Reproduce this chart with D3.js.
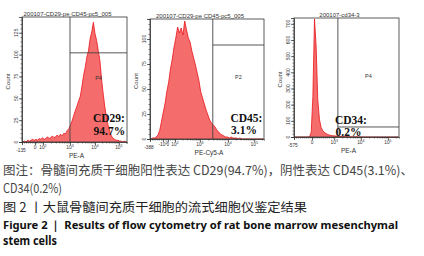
<!DOCTYPE html>
<html><head><meta charset="utf-8">
<script src="https://cdn.jsdelivr.net/npm/d3@7"></script>
<style>body{margin:0;background:#fff;} svg{display:block}</style>
</head><body><svg id="c" width="424" height="256"></svg>
<script>
// ---------- DATA ----------
const titles = ["200107-CD29-pe CD45-pc5_005", "200107-CD29-pe CD45-pc5_005", "200107-cd34-3"];
const xAxisNames = ["PE-A", "PE-Cy5-A", "PE-A"];
const gateNames = ["P4", "P2", "P4"];
const markerNames = ["CD29:", "CD45:", "CD34:"];
const markerPercents = ["94.7%", "3.1%", "0.2%"];
// histogram counts: 64 bins over 256 display channels
const cd29Counts = [0,1,0,2, 1,2,3,2, 3,2,4,3, 5,3,4,6, 4,5,7,5, 6,8,6,9, 7,10,9,13, 15,19,24,30,
  36,41,47,52, 63,76,85,97, 104,118,126,137, 124,116,104,93, 72,55,40,28, 19,12,7,4, 3,2,2,1, 1,0,1,0];
const cd45Counts = [0,1,1,2, 4,9,18,27, 36,48,57,70, 80,92,101,112, 106,111,104,118, 109,101,97,88,
  81,74,66,58, 47,41,35,29, 24,19,16,14, 12,9,7,5, 4,3,2,2, 1,2,1,1, 1,0,1,0, 0,0,0,0, 0,0,0,0, 0,0,0,0];
const cd34Counts = [0,0,0,0, 0,0,0,0, 0,2,30,250, 730,560,230,110, 60,40,28,22, 16,12,10,8, 7,6,5,4,
  4,3,3,2, 2,2,1,1, 1,1,1,0, 1,0,0,0, 0,0,0,0, 0,0,0,0, 0,0,0,0, 0,0,0,0, 0,0,0,0];
const countMax = [143, 120, 736];
const yTicks1 = [0, 25, 50, 75, 100, 125];
const yTicks2 = [0, 25, 50, 75, 100];
const yTicks3 = [0, 100, 200, 300, 400, 500, 600, 700];
const xTickLabels1 = ["-135", "0", "10^2", "10^3", "10^4", "10^5"];
const xTickChannels1 = [0, 32, 51, 117, 178, 236];
const xTickLabels2 = ["-388", "-10^2", "0", "10^2", "10^3", "10^4", "10^5"];
const xTickChannels2 = [0, 29, 40, 56, 112, 175, 234];
const xTickLabels3 = ["-575", "0", "10^3", "10^4", "10^5"];
const xTickChannels3 = [0, 44, 98, 163, 229];
const gateChannels = [117, 141, 107];   // vertical gate threshold (channel)
const gateLevels = [102, 94, 62];       // horizontal gate line (count)

const captionLines = [
  "图注：骨髓间充质干细胞阳性表达 CD29(94.7%)，阴性表达 CD45(3.1%)、",
  "CD34(0.2%)",
  "图 2 丨大鼠骨髓间充质干细胞的流式细胞仪鉴定结果",
  "Figure 2 ｜ Results of flow cytometry of rat bone marrow mesenchymal",
  "stem cells"
];

// ---------- LAYOUT ----------
const panels = [
  {box: {l: 22, r: 127, t: 17, b: 142}, counts: cd29Counts, yTicks: yTicks1, yMinor: 5,
   xl: xTickLabels1, xc: xTickChannels1, mk: {x: 93, y: 122, dy: 12.5}},
  {box: {l: 150, r: 264, t: 19, b: 139}, counts: cd45Counts, yTicks: yTicks2, yMinor: 5,
   xl: xTickLabels2, xc: xTickChannels2, mk: {x: 230.5, y: 122, dy: 12}},
  {box: {l: 294, r: 399, t: 18, b: 137}, counts: cd34Counts, yTicks: yTicks3, yMinor: 20,
   xl: xTickLabels3, xc: xTickChannels3, mk: {x: 335, y: 124, dy: 12}}
];

const svg = d3.select("#c");
const axisColor = "#333";
const sans = "'Liberation Sans', Arial, sans-serif";

panels.forEach((p, i) => {
  const g = svg.append("g");
  const {l, r, t, b} = p.box;
  const x = d3.scaleLinear().domain([0, 256]).range([l, r]);
  const y = d3.scaleLinear().domain([0, countMax[i]]).range([b, t]);
  const bins = p.counts.map((c, k) => ({ch: k * 4 + 2, c}));

  // histogram
  const area = d3.area().x(d => x(d.ch)).y0(y(0)).y1(d => y(d.c)).curve(d3.curveLinear);
  const line = d3.line().x(d => x(d.ch)).y(d => y(d.c)).curve(d3.curveLinear);
  g.append("path").datum(bins).attr("d", area).attr("fill", "#f56c6c");
  g.append("path").datum(bins).attr("d", line).attr("fill", "none")
    .attr("stroke", "#e8151b").attr("stroke-width", 0.8);

  // frame
  g.append("rect").attr("x", l).attr("y", t).attr("width", r - l).attr("height", b - t)
    .attr("fill", "none").attr("stroke", axisColor).attr("stroke-width", 0.8);

  // gate
  const gx = x(gateChannels[i]);
  g.append("line").attr("x1", gx).attr("x2", gx).attr("y1", t).attr("y2", b)
    .attr("stroke", "#444").attr("stroke-width", 0.9);
  g.append("line").attr("x1", gx).attr("x2", r).attr("y1", y(gateLevels[i])).attr("y2", y(gateLevels[i]))
    .attr("stroke", "#444").attr("stroke-width", 0.9);
  g.append("text").attr("x", (gx + r) / 2).attr("y", (t + b) / 2 - 0)
    .attr("text-anchor", "middle").attr("font-family", sans).attr("font-size", 5.5)
    .attr("fill", "#333").text(gateNames[i]);

  // title
  g.append("text").attr("x", (l + r) / 2 - 7).attr("y", t - 1.5).attr("text-anchor", "middle")
    .attr("font-family", sans).attr("font-size", 6).attr("fill", "#333").text(titles[i]);

  // y axis
  const minorY = d3.range(0, countMax[i] + 0.1, p.yMinor).filter(v => y(v) >= t);
  g.append("g").attr("transform", `translate(${l},0)`)
    .call(d3.axisLeft(y).tickValues(minorY).tickSize(1.5).tickFormat(""))
    .call(a => a.select(".domain").remove())
    .call(a => a.selectAll("line").attr("stroke", axisColor).attr("stroke-width", 0.6));
  const ya = g.append("g").attr("transform", `translate(${l},0)`)
    .call(d3.axisLeft(y).tickValues(p.yTicks).tickSize(3).tickFormat(""));
  ya.select(".domain").attr("stroke", axisColor).attr("stroke-width", 0.8);
  ya.selectAll("line").attr("stroke", axisColor).attr("stroke-width", 0.7);
  p.yTicks.forEach(v => {
    g.append("text").attr("transform", `translate(${l - 4.5},${y(v)}) rotate(-90)`)
      .attr("text-anchor", "middle").attr("font-family", sans).attr("font-size", 5)
      .attr("fill", "#333").text(v);
  });
  g.append("text").attr("transform", `translate(${l - 12},${(t + b) / 2 + 2}) rotate(-90)`)
    .attr("text-anchor", "middle").attr("font-family", sans).attr("font-size", 6)
    .attr("fill", "#333").text("Count");

  // x axis: major ticks + minor log ticks
  const decIdx = p.xl.map((s, k) => s.startsWith("10^") ? k : -1).filter(k => k >= 0);
  const minor = [];
  for (let k = 0; k < decIdx.length - 1; k++) {
    const a = p.xc[decIdx[k]], c = p.xc[decIdx[k + 1]];
    for (let m = 2; m <= 9; m++) minor.push(a + Math.log10(m) * (c - a));
  }
  if (decIdx.length > 1) {
    const a = p.xc[decIdx[decIdx.length - 1]], step = a - p.xc[decIdx[decIdx.length - 2]];
    for (let m = 2; m <= 9; m++) { const v = a + Math.log10(m) * step; if (v <= 256) minor.push(v); }
  }
  for (let k = 0; k < p.xc[decIdx[0]]; k += 5) minor.push(k);
  const xaM = g.append("g").attr("transform", `translate(0,${b})`)
    .call(d3.axisBottom(x).tickValues(minor).tickSize(1.5).tickFormat(""));
  xaM.select(".domain").attr("stroke", axisColor).attr("stroke-width", 0.8);
  xaM.selectAll("line").attr("stroke", axisColor).attr("stroke-width", 0.6);
  const xa = g.append("g").attr("transform", `translate(0,${b})`)
    .call(d3.axisBottom(x).tickValues(p.xc).tickSize(3).tickFormat(""));
  xa.select(".domain").remove();
  xa.selectAll("line").attr("stroke", axisColor).attr("stroke-width", 0.8);
  p.xl.forEach((s, k) => {
    const isNeg = s.startsWith("-") && k === 0;
    const tx = g.append("text").attr("x", x(p.xc[k]) + (isNeg ? -1 : 0)).attr("y", b + (isNeg ? 10 : 7))
      .attr("text-anchor", "middle").attr("font-family", sans).attr("font-size", 4.8).attr("fill", "#333");
    if (s.includes("^")) {
      const [base, ex] = s.split("^");
      tx.append("tspan").text(base);
      tx.append("tspan").attr("font-size", 3.5).attr("dy", -2).text(ex);
    } else tx.text(s);
  });
  g.append("text").attr("x", (l + r) / 2 + 2).attr("y", b + 15.5).attr("text-anchor", "middle")
    .attr("font-family", sans).attr("font-size", 6.5).attr("fill", "#333").text(xAxisNames[i]);

  // marker label
  g.append("text").attr("x", p.mk.x).attr("y", p.mk.y).attr("font-family", "'Liberation Serif', serif")
    .attr("font-weight", "bold").attr("font-size", 11.5).attr("fill", "#111").text(markerNames[i]);
  g.append("text").attr("x", p.mk.x + 0.5).attr("y", p.mk.y + p.mk.dy).attr("font-family", "'Liberation Serif', serif")
    .attr("font-weight", "bold").attr("font-size", 11.5).attr("fill", "#111").text(markerPercents[i]);
});

// caption
const cap = svg.append("g");
const cjk = "'Noto Sans CJK SC', 'Noto Sans', sans-serif";
const latin = "'Noto Sans', 'Open Sans', sans-serif";
const capStyles = [
  {y: 175, size: 12.5, weight: "normal", fill: "#444", len: 410, font: cjk},
  {y: 193, size: 12.5, weight: "normal", fill: "#444", len: 59, font: cjk},
  {y: 211.5, size: 12.5, weight: "normal", fill: "#222", len: 304, font: cjk},
  {y: 228.5, size: 11.2, weight: "bold", fill: "#111", len: 395, font: latin},
  {y: 245, size: 11.6, weight: "bold", fill: "#111", len: 54, font: latin}
];
captionLines.forEach((s, k) => {
  const st = capStyles[k];
  const t = cap.append("text").attr("x", 3).attr("y", st.y)
    .attr("font-family", st.font)
    .attr("font-size", st.size).attr("font-weight", st.weight).attr("fill", st.fill).text(s);
  if (st.len) t.attr("textLength", st.len).attr("lengthAdjust", "spacingAndGlyphs");
});
</script></body></html>
